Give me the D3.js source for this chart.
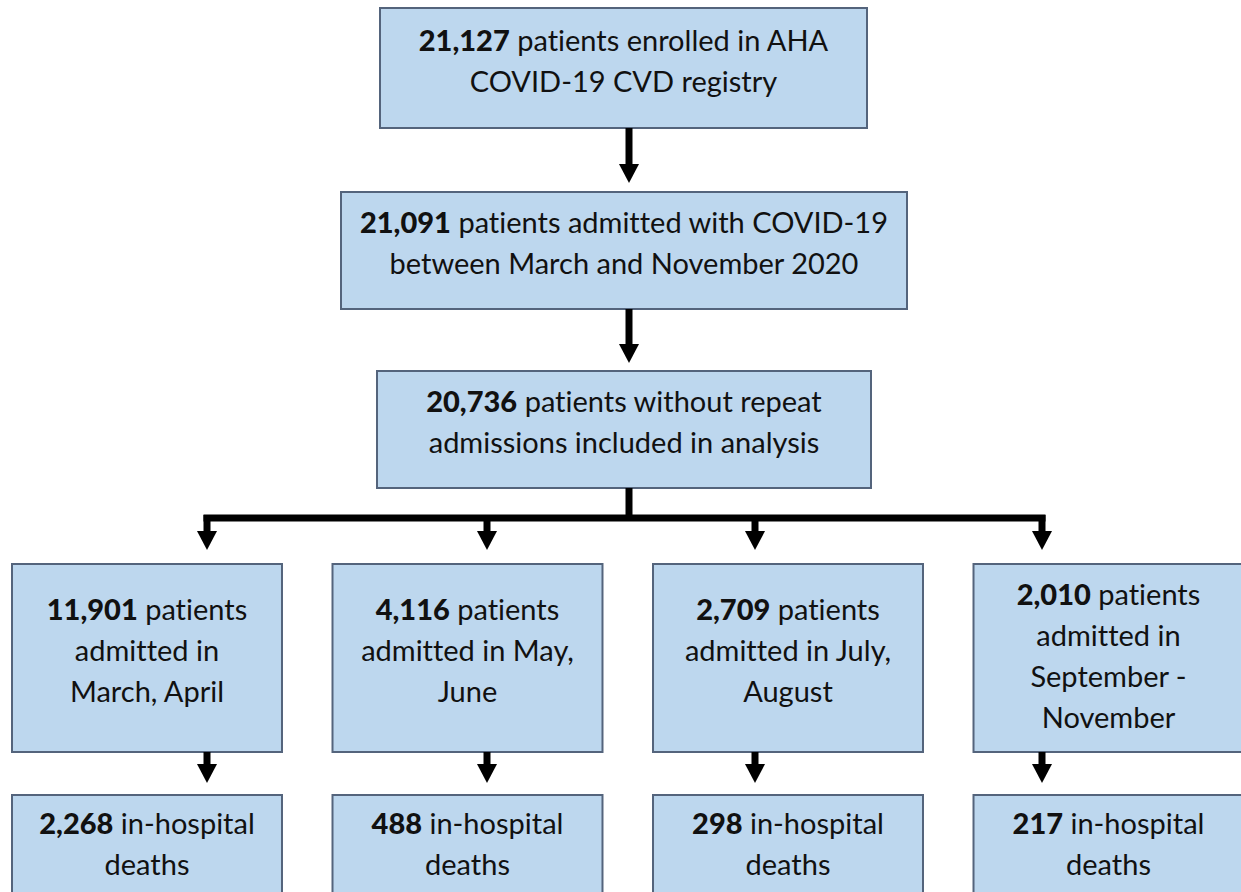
<!DOCTYPE html>
<html>
<head>
<meta charset="utf-8">
<script src="https://cdn.jsdelivr.net/npm/d3@7"></script>
<style>
  body { margin: 0; background: #fff; }
  text { font-family: Lato, "Open Sans", sans-serif; font-size: 29px; fill: #111; font-variant-ligatures: none; }
  .num { font-weight: 900; }
</style>
</head>
<body>
<div id="viz"></div>
<script>

// counts shown in bold at the start of each box
var topCounts = ["21,127", "21,091", "20,736"];
var topLabels = [
	["patients enrolled in AHA", "COVID-19 CVD registry"],
	["patients admitted with COVID-19", "between March and November 2020"],
	["patients without repeat", "admissions included in analysis"]
];

var periodCounts = ["11,901", "4,116", "2,709", "2,010"];
var periodLabels = [
	["patients", "admitted in", "March, April"],
	["patients", "admitted in May,", "June"],
	["patients", "admitted in July,", "August"],
	["patients", "admitted in", "September -", "November"]
];

var deathCounts = ["2,268", "488", "298", "217"];
var deathLabels = ["in-hospital", "deaths"];

var width = 1241,
	height = 892;

var lineGap = 41;
var fill = "#bdd7ee",
	edge = "#54647c";

var svg = d3.select("#viz")
	.append("svg")
	.attr("width", width)
	.attr("height", height);

// top boxes
var topBoxes = [
	{x0: 380, x1: 867, y0: 8, y1: 128},
	{x0: 341, x1: 907, y0: 192, y1: 309},
	{x0: 377, x1: 871, y0: 371, y1: 488}
];

// columns for the four periods
var col = d3.scaleBand()
	.domain(d3.range(4))
	.range([12, 1243.5])
	.paddingInner(0.1576);

// arrows are not centred on the boxes in the original
var arrowX = d3.scaleOrdinal()
	.domain(d3.range(4))
	.range([207, 487, 755, 1042]);

var periodTop = 564, periodBottom = 752,
	deathTop = 795, deathBottom = 920;

// draw a box with one bold number then lines of text
function drawBox(x0, y0, w, h, count, lines) {
	var g = svg.append("g");
	g.append("rect")
		.attr("x", x0)
		.attr("y", y0)
		.attr("width", w)
		.attr("height", h)
		.attr("fill", fill)
		.attr("stroke", edge)
		.attr("stroke-width", 2);

	var n = lines.length,
		cx = x0 + w / 2,
		cy = y0 + h / 2 - (n > 3 ? 2 : 7);

	lines.forEach(function(l, i) {
		var t = g.append("text")
			.attr("x", cx)
			.attr("y", cy + (i - (n - 1) / 2) * lineGap + 10)
			.attr("text-anchor", "middle");
		if (i === 0) {
			t.append("tspan").attr("class", "num").text(count);
			t.append("tspan").text(" " + l);
		} else {
			t.text(l);
		}
	});
}

// vertical arrow, tip at y1
function arrow(x, y0, y1) {
	var hh = 19, hw = 10;
	svg.append("line")
		.attr("x1", x).attr("x2", x)
		.attr("y1", y0).attr("y2", y1 - hh + 1)
		.attr("stroke", "#000")
		.attr("stroke-width", 7);
	svg.append("path")
		.attr("d", d3.line()([[x - hw, y1 - hh], [x + hw, y1 - hh], [x, y1]]) + "Z")
		.attr("fill", "#000");
}

topBoxes.forEach(function(b, i) {
	drawBox(b.x0, b.y0, b.x1 - b.x0, b.y1 - b.y0, topCounts[i], topLabels[i]);
});

arrow(629, 128, 183);
arrow(629, 309, 363);

// branch
svg.append("line")
	.attr("x1", 629).attr("x2", 629)
	.attr("y1", 488).attr("y2", 518)
	.attr("stroke", "#000").attr("stroke-width", 7);
svg.append("line")
	.attr("x1", arrowX(0) - 3.5).attr("x2", arrowX(3) + 3.5)
	.attr("y1", 518).attr("y2", 518)
	.attr("stroke", "#000").attr("stroke-width", 7);

d3.range(4).forEach(function(i) {
	arrow(arrowX(i), 515, 550);
	drawBox(col(i), periodTop, col.bandwidth(), periodBottom - periodTop, periodCounts[i], periodLabels[i]);
	arrow(arrowX(i), periodBottom, 783);
});

d3.range(4).forEach(function(i) {
	var g = svg.append("g");
	g.append("rect")
		.attr("x", col(i))
		.attr("y", deathTop)
		.attr("width", col.bandwidth())
		.attr("height", deathBottom - deathTop)
		.attr("fill", fill)
		.attr("stroke", edge)
		.attr("stroke-width", 2);
	deathLabels.forEach(function(l, j) {
		var t = g.append("text")
			.attr("x", col(i) + col.bandwidth() / 2)
			.attr("y", deathTop + 39 + j * lineGap)
			.attr("text-anchor", "middle");
		if (j === 0) {
			t.append("tspan").attr("class", "num").text(deathCounts[i]);
			t.append("tspan").text(" " + l);
		} else {
			t.text(l);
		}
	});
});

</script>
</body>
</html>
